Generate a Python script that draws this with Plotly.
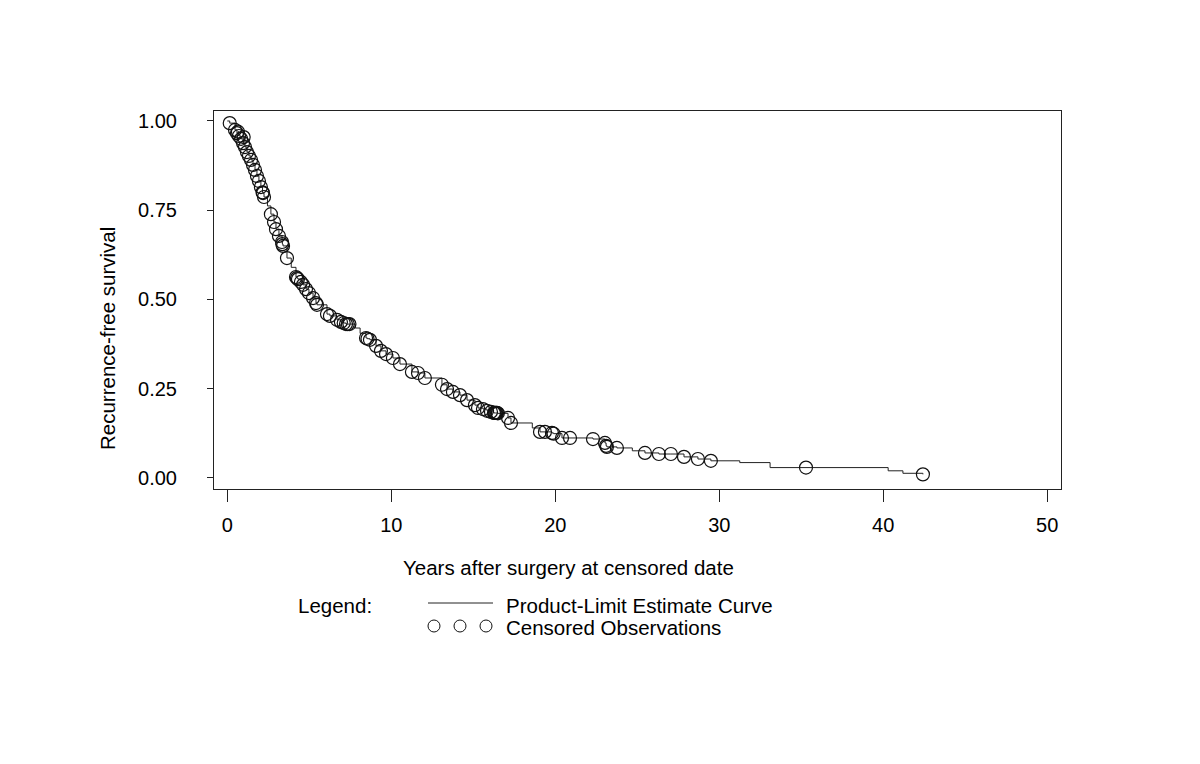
import plotly.graph_objects as go

# Censored observations (years, survival estimate at censoring)
censor_years = [0.15, 0.47, 0.59, 0.65, 0.71, 0.84, 0.96, 1.00, 1.08, 1.20, 1.32, 1.45, 1.57, 1.69,
                1.81, 1.93, 2.05, 2.15, 2.18, 2.24, 2.66, 2.85, 2.97, 3.15, 3.34, 3.36, 3.40, 3.64,
                4.19, 4.25, 4.31, 4.49, 4.62, 4.80, 4.98, 5.23, 5.41, 5.47, 6.08, 6.26, 6.69,
                6.93, 7.10, 7.24, 7.35, 7.45, 8.46, 8.55, 8.70, 9.07, 9.37, 9.68, 10.10, 10.53,
                11.26, 11.63, 12.05, 13.09, 13.40, 13.76, 14.19, 14.62, 15.10, 15.29, 15.59,
                15.84, 16.08, 16.26, 16.30, 16.35, 16.40, 16.45, 16.50, 17.12, 17.30, 19.07,
                19.37, 19.80, 19.90, 20.41, 20.90, 22.30, 23.03, 23.10, 23.15, 23.76, 25.47,
                26.32, 27.05, 27.85, 28.70, 29.49, 35.29, 42.42]
censor_surv = [0.994, 0.975, 0.966, 0.970, 0.958, 0.950, 0.938, 0.955, 0.927, 0.913, 0.902, 0.891,
               0.877, 0.863, 0.846, 0.832, 0.815, 0.800, 0.798, 0.787, 0.739, 0.717, 0.697, 0.678,
               0.661, 0.655, 0.650, 0.616, 0.563, 0.560, 0.557, 0.549, 0.541, 0.529, 0.518, 0.504,
               0.490, 0.485, 0.459, 0.454, 0.443, 0.437, 0.434, 0.431, 0.431, 0.431, 0.392, 0.390,
               0.387, 0.370, 0.356, 0.347, 0.336, 0.319, 0.297, 0.294, 0.280, 0.261, 0.249, 0.241,
               0.232, 0.218, 0.204, 0.196, 0.193, 0.188, 0.185, 0.182, 0.182, 0.182, 0.182, 0.182,
               0.181, 0.168, 0.154, 0.129, 0.129, 0.126, 0.124, 0.112, 0.112, 0.109, 0.098, 0.090,
               0.087, 0.084, 0.070, 0.067, 0.067, 0.059, 0.053, 0.048, 0.029, 0.010]

# Additional event steps of the product-limit curve (no censoring at these times)
event_years = [0.0, 2.45, 3.90, 7.80, 8.10, 18.6, 24.7, 31.25, 33.1, 40.3, 41.2]
event_surv = [1.0, 0.762, 0.590, 0.420, 0.405, 0.140, 0.076, 0.043, 0.029, 0.020, 0.013]

x_ticks = [0, 10, 20, 30, 40, 50]
y_ticks = [0.0, 0.25, 0.5, 0.75, 1.0]
y_tick_text = ["0.00", "0.25", "0.50", "0.75", "1.00"]

curve = sorted(zip(censor_years + event_years, censor_surv + event_surv))
curve_x = [p[0] for p in curve]
curve_y = [p[1] for p in curve]

FONT = "Liberation Sans, Arial, sans-serif"

fig = go.Figure()
fig.add_trace(go.Scatter(x=curve_x, y=curve_y, mode="lines", line_shape="hv",
                         line=dict(color="#222222", width=1), showlegend=False,
                         hoverinfo="skip"))
fig.add_trace(go.Scatter(x=censor_years, y=censor_surv, mode="markers",
                         marker=dict(symbol="circle-open", size=13,
                                     color="#111111", line=dict(width=1.2, color="#111111")),
                         showlegend=False))

OFF = 8  # page body margin
W, H = 1200 - OFF, 764 - OFF
L, R, T, B = 214 - OFF, 1061 - OFF, 111 - OFF, 489 - OFF
pw, ph = R - L, B - T

def px(xp):
    return (xp - OFF - L) / pw

def py(yp):
    return (B - (yp - OFF)) / ph

annotations = [
    dict(text="Years after surgery at censored date", x=px(568), y=py(567), xref="paper",
         yref="paper", xanchor="center", yanchor="middle", showarrow=False,
         font=dict(size=20.5, color="black", family=FONT)),
    dict(text="Recurrence-free survival", x=px(107), y=py(339), xref="paper", yref="paper",
         xanchor="center", yanchor="middle", textangle=-90, showarrow=False,
         font=dict(size=20.5, color="black", family=FONT)),
    dict(text="Legend:", x=px(296), y=py(605), xref="paper", yref="paper",
         xanchor="left", yanchor="middle", showarrow=False,
         font=dict(size=20.5, color="black", family=FONT)),
    dict(text="Product-Limit Estimate Curve", x=px(504), y=py(605), xref="paper", yref="paper",
         xanchor="left", yanchor="middle", showarrow=False,
         font=dict(size=20.5, color="black", family=FONT)),
    dict(text="Censored Observations", x=px(504), y=py(627), xref="paper", yref="paper",
         xanchor="left", yanchor="middle", showarrow=False,
         font=dict(size=20.5, color="black", family=FONT)),
]

shapes = [dict(type="line", xref="paper", yref="paper", x0=px(428), x1=px(493),
               y0=py(603), y1=py(603), line=dict(color="#222222", width=1))]
for cx in [434, 460, 486]:
    r = 6
    shapes.append(dict(type="circle", xref="paper", yref="paper",
                       x0=px(cx - r), x1=px(cx + r), y0=py(626 + r), y1=py(626 - r),
                       line=dict(color="#111111", width=1)))

fig.update_layout(
    width=W, height=H,
    margin=dict(l=L, r=W - R, t=T, b=H - B, pad=0),
    paper_bgcolor="white", plot_bgcolor="white",
    font=dict(family=FONT, size=20, color="black"),
    annotations=annotations, shapes=shapes,
    xaxis=dict(range=[-0.81, 50.84], tickvals=x_ticks, ticks="outside", ticklen=12,
               tickwidth=1, tickcolor="#222222", showgrid=False, zeroline=False,
               showline=True, linecolor="#222222", linewidth=1, mirror=True,
               tickfont=dict(size=20, family=FONT, color="black"), ticklabelstandoff=6),
    yaxis=dict(range=[-0.031, 1.028], tickvals=y_ticks, ticktext=y_tick_text,
               ticks="outside", ticklen=6, tickwidth=1, tickcolor="#222222",
               showgrid=False, zeroline=False, showline=True, linecolor="#222222",
               linewidth=1, mirror=True,
               tickfont=dict(size=20, family=FONT, color="black"), ticklabelstandoff=26),
    showlegend=False,
)

fig.write_html("out.html")
